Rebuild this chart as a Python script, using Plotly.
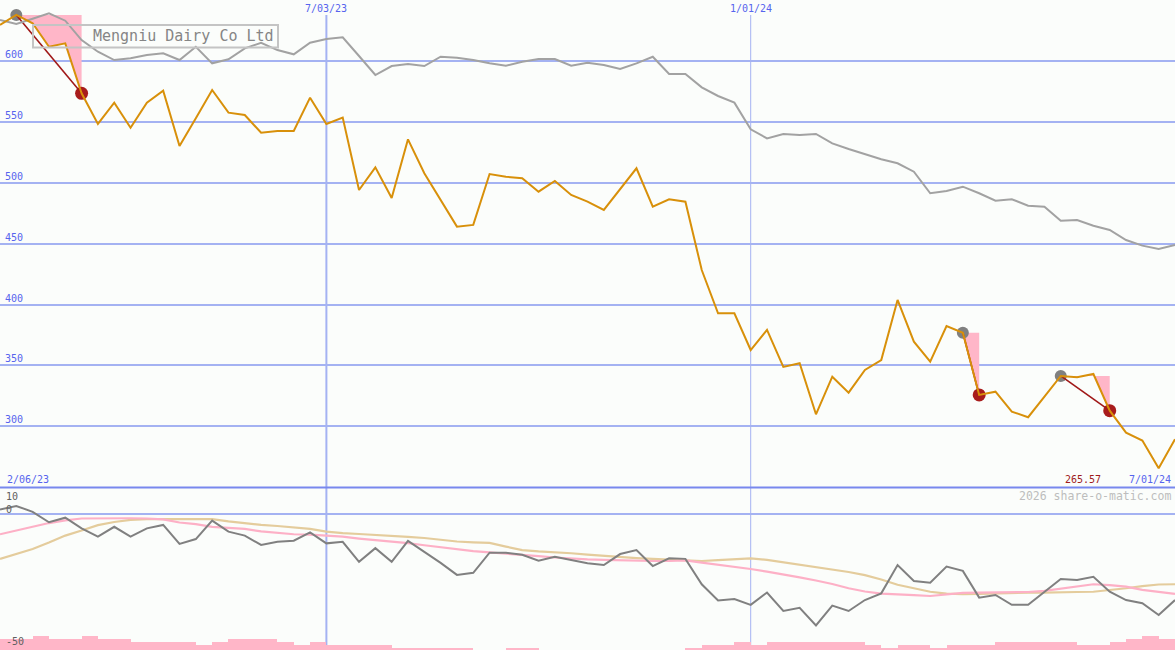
import plotly.graph_objects as go
import pandas as pd

# ---------------- data ----------------
dates = pd.date_range("2023-02-13", periods=73, freq="7D")

price = [629.6, 637.8, 631.0, 611.7, 614.5, 573.5, 548.3, 565.8, 545.2, 565.8,
         575.6, 530.2, 553.0, 576.2, 557.6, 555.7, 541.1, 542.5, 542.5, 569.9,
         548.3, 553.5, 494.1, 512.7, 487.5, 535.7, 507.8, 486.4, 464.0, 465.4,
         507.2, 505.0, 503.7, 492.7, 501.5, 490.0, 484.5, 477.7, 495.2, 511.9,
         480.4, 486.5, 484.5, 428.4, 392.9, 392.9, 362.7, 379.2, 348.8, 351.8,
         309.9, 340.8, 327.7, 346.3, 354.5, 403.8, 369.5, 353.1, 382.4, 376.9,
         325.8, 328.5, 312.1, 307.5, 324.4, 341.4, 340.3, 343.0, 312.9, 294.8,
         288.3, 265.57, 289.4]

price_avg = [633.7, 630.4, 634.7, 639.2, 633.1, 617.2, 607.6, 600.8, 602.2, 604.9,
             606.3, 600.8, 611.7, 598.1, 601.4, 610.4, 615.0, 609.0, 605.5, 615.0,
             618.1, 619.5, 604.1, 588.5, 595.9, 597.5, 595.9, 603.5, 602.7, 600.8,
             598.1, 596.1, 599.4, 601.6, 601.6, 596.1, 598.6, 596.7, 593.4, 598.1,
             603.5, 589.3, 589.3, 578.4, 571.3, 565.8, 543.9, 536.5, 540.1, 539.2,
             540.1, 532.4, 527.8, 523.7, 519.3, 516.0, 509.1, 491.4, 493.3, 496.8,
             491.4, 485.3, 486.5, 481.2, 480.4, 468.9, 469.5, 464.8, 461.3, 453.0,
             448.4, 445.7, 449.0]

osc = [1.9, 3.2, 1.0, -2.9, -1.2, -5.2, -8.3, -4.6, -8.3, -5.2,
       -3.9, -11.0, -9.2, -2.3, -6.4, -7.9, -11.4, -10.2, -9.8, -6.7,
       -10.8, -10.2, -17.7, -12.6, -17.7, -9.9, -14.0, -18.1, -22.6, -21.8,
       -14.3, -14.3, -15.1, -17.3, -15.8, -17.0, -18.2, -18.9, -14.8, -13.3,
       -19.3, -16.4, -16.6, -26.1, -32.2, -31.6, -33.8, -29.2, -36.1, -34.9,
       -41.5, -34.1, -36.1, -32.0, -29.5, -18.9, -24.9, -25.5, -19.5, -21.1,
       -31.1, -30.1, -33.8, -33.8, -28.9, -24.1, -24.5, -23.3, -28.9, -32.0,
       -33.2, -37.6, -32.0]

osc_fast = [-7.4, -5.9, -4.6, -3.2, -2.2, -1.5, -1.4, -1.4, -1.4, -1.5,
            -1.8, -3.0, -3.6, -4.6, -5.0, -5.4, -6.3, -6.9, -7.4, -7.5,
            -7.8, -8.3, -9.0, -9.5, -10.1, -10.7, -11.5, -12.3, -13.0, -13.7,
            -14.2, -14.6, -15.2, -15.6, -16.1, -16.5, -16.8, -17.0, -17.2, -17.4,
            -17.4, -17.4, -17.2, -18.0, -18.8, -19.5, -20.4, -21.4, -22.4, -23.5,
            -24.7, -26.0, -27.6, -28.8, -29.6, -29.8, -30.2, -30.5, -29.8, -29.3,
            -29.2, -29.2, -29.1, -29.0, -28.6, -27.8, -26.8, -26.1, -26.4, -27.0,
            -28.2, -29.0, -29.7]

osc_slow = [-16.6, -14.8, -12.9, -10.5, -7.9, -6.0, -4.0, -2.8, -2.0, -1.7,
            -1.7, -1.7, -1.7, -1.7, -2.6, -3.3, -3.9, -4.3, -4.8, -5.4,
            -6.4, -7.0, -7.3, -7.6, -8.0, -8.4, -8.8, -9.4, -10.1, -10.4,
            -10.6, -12.0, -13.3, -13.8, -14.1, -14.5, -15.0, -15.5, -16.0, -16.3,
            -16.6, -16.9, -17.2, -17.4, -17.1, -16.7, -16.4, -17.0, -17.9, -18.9,
            -19.8, -20.6, -21.5, -22.7, -24.3, -26.3, -27.7, -28.9, -29.6, -29.8,
            -29.7, -29.5, -29.4, -29.2, -29.2, -29.2, -29.0, -28.9, -28.3, -27.6,
            -26.8, -26.2, -26.1]

volume = [12, 12, 15, 12, 12, 15, 12, 12, 9, 9,
          9, 9, 6, 9, 12, 12, 12, 9, 6, 9,
          6, 6, 6, 6, 3, 3, 3, 3, 3, 0,
          0, 3, 3, 0, 0, 0, 0, 0, 0, 0,
          0, 0, 3, 6, 6, 9, 6, 9, 9, 9,
          9, 9, 9, 6, 3, 6, 6, 3, 6, 6,
          6, 9, 9, 9, 9, 9, 6, 6, 9, 12,
          15, 12, 0]

buy_idx = [1, 59, 65]
sell_idx = [5, 60, 68]

y_ticks = [300, 350, 400, 450, 500, 550, 600]
date_lines = ["2023-07-03", "2024-01-01"]
date_line_labels = ["7/03/23", "1/01/24"]
start_label = "2/06/23"
end_label = "7/01/24"
low_label = "265.57"
title = "Mengniu Dairy Co Ltd"

# ---------------- styles ----------------
BG = "#fbfdfb"
GRID = "#a4b2f2"
BLUE_TXT = "#5664ee"
ORANGE = "#d8900a"
GRAY = "#a2a2a2"
DGRAY = "#808080"
PINK = "#ffb6c8"
PINKLINE = "#fdb0c6"
TAN = "#e4cc9c"
DRED = "#a01818"
FONT = "DejaVu Sans Mono"
W, H = 1175, 650
SPLIT = 0.25

fig = go.Figure()

# volume bars (lower panel, pixel-scaled axis)
fig.add_trace(go.Bar(x=dates, y=volume, yaxis="y3", marker=dict(color=PINK, line=dict(width=0)),
                     width=7 * 86400000, offset=0, hoverinfo="skip", showlegend=False))

# signal polygons
for b, s in zip(buy_idx, sell_idx):
    xs = [dates[b], dates[s], dates[s]] + [dates[k] for k in range(s - 1, b - 1, -1)]
    ys = [price[b], price[b], price[s]] + [price[k] for k in range(s - 1, b - 1, -1)]
    fig.add_trace(go.Scatter(x=xs, y=ys, fill="toself", fillcolor=PINK, mode="none",
                             hoverinfo="skip", showlegend=False))

# signal markers
fig.add_trace(go.Scatter(x=[dates[i] for i in buy_idx], y=[price[i] for i in buy_idx],
                         mode="markers", marker=dict(color=DGRAY, size=12), showlegend=False))
fig.add_trace(go.Scatter(x=[dates[i] for i in sell_idx], y=[price[i] for i in sell_idx],
                         mode="markers", marker=dict(color="#a81c1c", size=13), showlegend=False))
for b, s in zip(buy_idx, sell_idx):
    fig.add_trace(go.Scatter(x=[dates[b], dates[s]], y=[price[b], price[s]], mode="lines",
                             line=dict(color=DRED, width=1.6), showlegend=False))

# main lines
fig.add_trace(go.Scatter(x=dates, y=price_avg, mode="lines", line=dict(color=GRAY, width=2),
                         showlegend=False))
fig.add_trace(go.Scatter(x=dates, y=price, mode="lines", line=dict(color=ORANGE, width=2),
                         showlegend=False))

# lower panel lines
fig.add_trace(go.Scatter(x=dates, y=osc_slow, yaxis="y2", mode="lines",
                         line=dict(color=TAN, width=2.2), showlegend=False))
fig.add_trace(go.Scatter(x=dates, y=osc_fast, yaxis="y2", mode="lines",
                         line=dict(color=PINKLINE, width=2.2), showlegend=False))
fig.add_trace(go.Scatter(x=dates, y=osc, yaxis="y2", mode="lines",
                         line=dict(color=DGRAY, width=2), showlegend=False))

fig.update_layout(
    width=W, height=H, margin=dict(l=0, r=0, t=0, b=0, autoexpand=False),
    paper_bgcolor=BG, plot_bgcolor=BG, showlegend=False, bargap=0,
    xaxis=dict(type="date", range=[dates[0], dates[-1]], visible=False, fixedrange=True),
    yaxis=dict(domain=[SPLIT, 1], range=[249.8, 650.1], tickvals=y_ticks, showgrid=True,
               gridcolor=GRID, gridwidth=2, showticklabels=False, zeroline=False),
    yaxis2=dict(domain=[0, SPLIT], range=[-50.7, 10.1], tickvals=[0], showgrid=True,
                gridcolor=GRID, gridwidth=2, showticklabels=False, zeroline=False, anchor="x"),
    yaxis3=dict(overlaying="y2", range=[0, 162.5], visible=False),
)

shapes = []
for d, w in zip(date_lines, [2, 1]):
    shapes.append(dict(type="line", xref="x", yref="paper", x0=d, x1=d, y0=0, y1=1 - 15 / H,
                       line=dict(color=GRID, width=w), layer="below"))
shapes.append(dict(type="line", xref="paper", yref="paper", x0=0, x1=1, y0=SPLIT, y1=SPLIT,
                   line=dict(color="#7888ee", width=2)))
shapes.append(dict(type="rect", xref="paper", yref="paper", x0=33 / W, x1=278 / W,
                   y0=1 - 47.5 / H, y1=1 - 25 / H, line=dict(color="#c4c4c4", width=2)))
fig.update_layout(shapes=shapes)

ann = []
for v in y_ticks:
    ann.append(dict(xref="paper", yref="y", x=0, y=v, xanchor="left", yanchor="bottom",
                    xshift=3, yshift=-1, text=str(v), showarrow=False,
                    font=dict(family=FONT, size=10, color=BLUE_TXT)))
for d, t in zip(date_lines, date_line_labels):
    ann.append(dict(xref="x", yref="paper", x=d, y=1 - 8 / H, yanchor="middle", text=t,
                    showarrow=False, font=dict(family=FONT, size=10, color=BLUE_TXT)))
ann.append(dict(xref="paper", yref="paper", x=5 / W, y=1 - 479 / H, xanchor="left",
                yanchor="middle", text=start_label, showarrow=False,
                font=dict(family=FONT, size=10, color=BLUE_TXT)))
ann.append(dict(xref="paper", yref="paper", x=1173 / W, y=1 - 479 / H, xanchor="right",
                yanchor="middle", text=end_label, showarrow=False,
                font=dict(family=FONT, size=10, color=BLUE_TXT)))
ann.append(dict(xref="paper", yref="paper", x=1103 / W, y=1 - 479 / H, xanchor="right",
                yanchor="middle", text=low_label, showarrow=False,
                font=dict(family=FONT, size=10, color="#a01c1c")))
ann.append(dict(xref="paper", yref="paper", x=1173 / W, y=1 - 496 / H, xanchor="right",
                yanchor="middle", text="2026 share-o-matic.com", showarrow=False,
                font=dict(family=FONT, size=11.5, color="#bdbdbd")))
for t, yp in [("10", 496), ("0", 509), ("-50", 641)]:
    ann.append(dict(xref="paper", yref="paper", x=4 / W, y=1 - yp / H, xanchor="left",
                    yanchor="middle", text=t, showarrow=False,
                    font=dict(family=FONT, size=10, color="#606060")))
ann.append(dict(xref="paper", yref="paper", x=91 / W, y=1 - 36.5 / H, xanchor="left",
                yanchor="middle", text=title, showarrow=False,
                font=dict(family=FONT, size=15, color="#858585")))
fig.update_layout(annotations=ann)

fig.write_html("out.html", config={"responsive": False, "displayModeBar": False},
               post_script="document.body.style.margin='0';document.body.style.padding='0';"
                           "document.body.style.overflow='hidden';")
